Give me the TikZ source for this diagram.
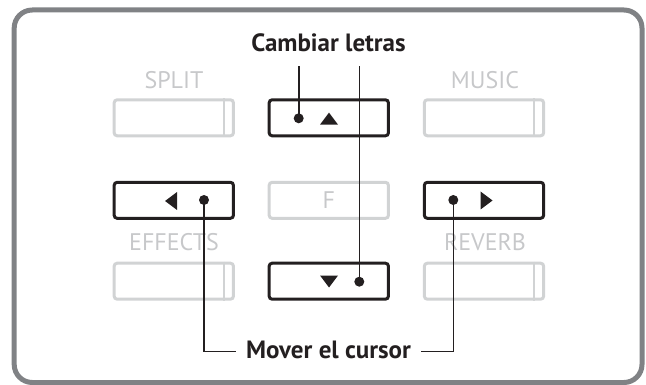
\documentclass[tikz,border=0pt]{standalone}
\usepackage{fontspec}
\setmainfont{PT Sans}
\usetikzlibrary{calc}
\definecolor{framegray}{RGB}{128,130,133}
\definecolor{offgray}{RGB}{209,211,212}
\definecolor{labelgray}{RGB}{199,200,202}
\definecolor{keyblack}{RGB}{35,31,32}
\tikzset{
  keybox/.style={
    draw,rounded corners=3pt,line width=3pt,minimum width=119.3pt,
    minimum height=36pt,inner sep=0pt
  },
  onkey/.style={keybox,draw=keyblack},
  offkey/.style={keybox,draw=offgray,text=labelgray,font=\fontsize{24}{24}\selectfont},
  offlabel/.style={anchor=base,inner sep=0pt,text=labelgray,font=\fontsize{24}{24}\selectfont},
  callout/.style={anchor=base,text=keyblack,font=\bfseries\fontsize{25}{25}\selectfont},
  keydot/.style={circle,fill=keyblack,inner sep=0pt,minimum size=10pt},
  keytri/.style={fill=keyblack},
  leader/.style={draw=keyblack,line width=1.6pt},
  offmark/.style={draw=offgray,line width=2pt},
  frameline/.style={draw=framegray,line width=5pt,rounded corners=18pt}
}

\begin{document}
\begin{tikzpicture}[x=1pt,y=-1pt]
  \useasboundingbox (0,0) rectangle (646,385);
  \draw[frameline] (14.2,10) rectangle (642,382.5);
  % panel keys
  \node[offkey] (split) at (173.8,117.8) {};
  \node[onkey] (upbtn) at (328.8,117.8) {};
  \node[offkey] (music) at (484,117.8) {};
  \node[onkey] (leftbtn) at (173.8,200.3) {};
  \node[offkey] (fbtn) at (328.8,200.3) {F};
  \node[onkey] (rightbtn) at (484,200.3) {};
  \node[offkey] (effects) at (173.8,281.2) {};
  \node[onkey] (downbtn) at (328.8,281.2) {};
  \node[offkey] (reverb) at (484,281.2) {};
  \foreach \k in {split,music,effects,reverb}
    \draw[offmark] ([xshift=-11pt]\k.north east) -- ([xshift=-11pt]\k.south east);
  % key names
  \node[offlabel] (splitlbl) at (174,88.3) {SPLIT};
  \node[offlabel] (musiclbl) at (485,88.3) {MUSIC};
  \node[offlabel] (effectslbl) at (174,250.5) {EFFECTS};
  \node[offlabel] (reverblbl) at (485,250.5) {REVERB};
  % arrow marks
  \fill[keytri] ([shift={(0.2,-5.2)}]upbtn.center) -- ++(9,12) -- ++(-18,0) -- cycle;
  \fill[keytri] ([shift={(0.2,6.3)}]downbtn.center) -- ++(9,-12) -- ++(-18,0) -- cycle;
  \fill[keytri] ([shift={(-8.8,0.7)}]leftbtn.center) -- ++(12,-9) -- ++(0,18) -- cycle;
  \fill[keytri] ([shift={(8.5,0.2)}]rightbtn.center) -- ++(-12,-9) -- ++(0,18) -- cycle;
  \node[keydot] (updot) at ([shift={(-30.1,0.5)}]upbtn.center) {};
  \node[keydot] (downdot) at ([shift={(30.5,0.5)}]downbtn.center) {};
  \node[keydot] (leftdot) at ([shift={(30.2,-0.3)}]leftbtn.center) {};
  \node[keydot] (rightdot) at ([shift={(-30.7,-0.3)}]rightbtn.center) {};
  % callouts
  \node[callout,inner xsep=0pt,inner ysep=13.3pt] (cambiar) at (328.5,51.7) {Cambiar letras};
  \node[callout,inner xsep=10pt,inner ysep=0pt,text height=13.3pt,text depth=0pt]
    (mover) at (328.5,358.3) {Mover el cursor};
  \draw[leader] (updot.center) -- (updot.center |- cambiar.south);
  \draw[leader] (downdot.center) -- (downdot.center |- cambiar.south);
  \draw[leader] (leftdot.center) |- (mover.west);
  \draw[leader] (rightdot.center) |- (mover.east);
\end{tikzpicture}
\end{document}
